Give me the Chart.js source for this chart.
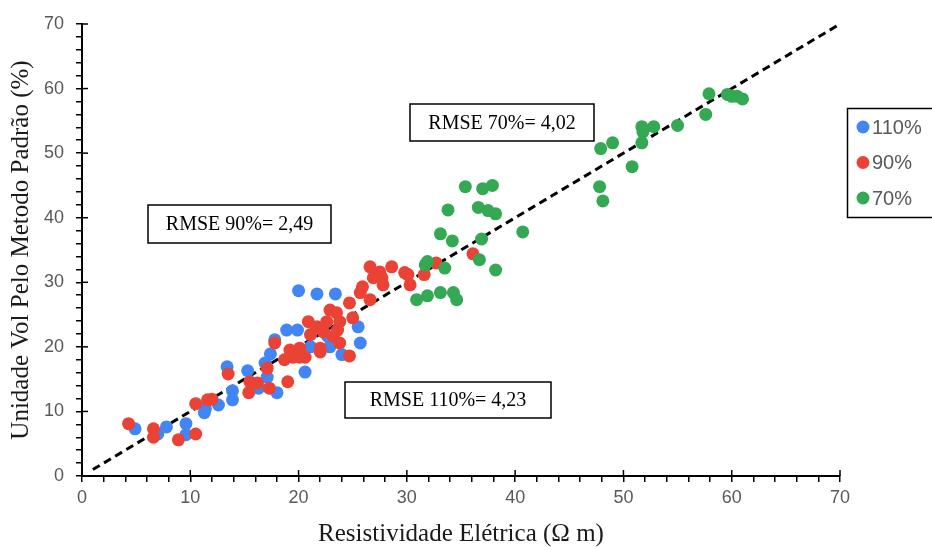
<!DOCTYPE html>
<html lang="pt">
<head>
<meta charset="utf-8">
<title>Resistividade x Umidade</title>
<script src="https://cdn.jsdelivr.net/npm/chart.js@4.4.1/dist/chart.umd.min.js"></script>
<style>
    html, body { margin: 0; padding: 0; background: #fff; }
    #wrap { width: 932px; height: 547px; position: relative; }
</style>
</head>
<body>
<div id="wrap"><canvas id="grafico"></canvas></div>
<script>
// Teor de umidade 110%
const azulX = [4.9, 7.0, 7.8, 9.6, 9.6, 11.3, 11.4, 12.6, 13.9, 13.9, 13.4, 15.3, 16.3, 18.0, 17.1,
    16.9, 17.4, 17.8, 18.9, 19.9, 21.1, 22.9, 24.0, 20.0, 21.7, 23.4, 20.6, 25.5, 25.7, 22.7];
const azulY = [7.3, 6.5, 7.6, 8.1, 6.4, 9.8, 10.4, 11.0, 13.2, 11.8, 16.9, 16.3, 13.6, 12.9, 15.3,
    17.5, 18.9, 21.1, 22.6, 22.6, 20.0, 20.0, 18.8, 28.7, 28.2, 28.2, 16.1, 23.1, 20.6, 21.6];

// Teor de umidade 90%
const vermelhoX = [4.3, 6.6, 6.6, 8.9, 10.5, 10.5, 11.6, 12.0, 13.5, 15.4, 15.5, 16.2, 17.3, 17.1, 17.8,
    19.2, 19.5, 18.7, 20.1, 20.6, 22.0, 19.0, 20.9, 21.7, 22.3, 22.6, 22.9, 23.5, 24.7, 23.8,
    25.0, 23.6, 23.2, 23.8, 24.7, 22.0, 21.1, 20.1, 25.7, 25.9, 26.6, 26.9, 27.7, 27.8, 26.6,
    27.5, 28.6, 29.8, 30.1, 30.3, 31.6, 32.7, 36.1];
const vermelhoY = [8.1, 7.3, 6.0, 5.6, 6.5, 11.2, 11.8, 11.9, 15.8, 12.9, 14.6, 14.4, 13.6, 16.7, 20.6,
    19.5, 18.4, 18.0, 18.4, 18.4, 19.2, 14.6, 23.9, 23.1, 22.3, 23.9, 25.7, 25.3, 26.8, 23.9,
    24.5, 22.6, 21.6, 20.6, 18.6, 19.8, 21.9, 19.8, 28.4, 29.3, 27.3, 30.7, 30.7, 29.6, 32.4,
    31.6, 32.4, 31.5, 31.2, 29.6, 31.2, 33.0, 34.4];

// Teor de umidade 70%
const verdeX = [35.4, 37.0, 37.9, 33.8, 36.6, 37.5, 38.2, 40.7, 33.1, 34.2, 36.9, 36.7, 31.9, 31.7, 33.5,
    38.2, 30.9, 31.9, 33.1, 34.3, 34.6, 47.9, 49.0, 50.8, 47.8, 48.1, 51.7, 51.8, 52.8, 51.7,
    55.0, 57.9, 57.6, 59.6, 60.0, 60.5, 61.0];
const verdeY = [44.8, 44.5, 45.0, 41.2, 41.6, 41.1, 40.6, 37.8, 37.5, 36.4, 36.7, 33.5, 33.2, 32.7, 32.2,
    31.9, 27.3, 27.9, 28.4, 28.4, 27.3, 50.7, 51.6, 47.9, 44.8, 42.6, 54.1, 53.3, 54.1, 51.6,
    54.3, 59.2, 56.0, 59.1, 58.8, 58.8, 58.4];

// Reta 1:1
const retaX = [1, 70];
const retaY = [1, 70];

const series = ['110%', '90%', '70%'];
const cores = ['#4285F4', '#EA4335', '#34A853'];

const rmse = [
    { texto: 'RMSE 70%= 4,02', x0: 410, y0: 104, x1: 594, y1: 141 },
    { texto: 'RMSE 90%= 2,49', x0: 148, y0: 205, x1: 331, y1: 243 },
    { texto: 'RMSE 110%= 4,23', x0: 345, y0: 382, x1: 551, y1: 418 }
];

function pares(xs, ys) {
    return xs.map((x, i) => ({ x: x, y: ys[i] }));
}

// Marcas maiores atravessam o eixo, menores ficam do lado de fora
const marcasEixo = {
    id: 'marcasEixo',
    afterDraw(chart) {
        const ctx = chart.ctx;
        const area = chart.chartArea;
        const sx = chart.scales.x;
        const sy = chart.scales.y;
        ctx.save();
        ctx.strokeStyle = '#000';
        ctx.lineWidth = 1.5;
        for (let v = 0; v <= 70; v += 10) {
            const px = sx.getPixelForValue(v);
            ctx.beginPath();
            ctx.moveTo(px, area.bottom);
            ctx.lineTo(px, area.bottom - 6);
            ctx.stroke();
            const py = sy.getPixelForValue(v);
            ctx.beginPath();
            ctx.moveTo(area.left, py);
            ctx.lineTo(area.left + 6, py);
            ctx.stroke();
        }

        // Caixas com o RMSE
        ctx.font = '20px "Liberation Serif", "Times New Roman", serif';
        ctx.fillStyle = '#000';
        ctx.textBaseline = 'middle';
        ctx.textAlign = 'center';
        rmse.forEach(r => {
            ctx.lineWidth = 1.5;
            ctx.strokeRect(r.x0, r.y0, r.x1 - r.x0, r.y1 - r.y0);
            ctx.fillText(r.texto, (r.x0 + r.x1) / 2, (r.y0 + r.y1) / 2 + 1);
        });

        // Legenda
        ctx.lineWidth = 1.5;
        ctx.strokeRect(847.5, 108.5, 90, 109);
        ctx.font = '20px "Liberation Sans", Arial, sans-serif';
        ctx.textAlign = 'left';
        series.forEach((s, i) => {
            const y = 127 + i * 35.5;
            ctx.fillStyle = cores[i];
            ctx.beginPath();
            ctx.arc(863, y, 6.5, 0, Math.PI * 2);
            ctx.fill();
            ctx.fillStyle = '#595959';
            ctx.fillText(s, 872, y + 1);
        });
        ctx.restore();
    }
};

const fonteTicks = { family: '"Liberation Sans", Arial, sans-serif', size: 18 };
const fonteTitulo = { family: '"Liberation Serif", "Times New Roman", serif', size: 25, lineHeight: 1 };

function eixo(largura, titulo, tituloPad) {
    return {
        type: 'linear',
        min: 0,
        max: 70,
        afterFit(scale) {
            if (scale.isHorizontal()) scale.height = largura;
            else scale.width = largura;
        },
        border: { display: true, color: '#000', width: 2 },
        grid: {
            display: true,
            drawOnChartArea: false,
            drawTicks: true,
            tickLength: 6,
            color: '#000',
            lineWidth: 1.5
        },
        ticks: {
            stepSize: 2,
            autoSkip: false,
            maxRotation: 0,
            color: '#595959',
            font: fonteTicks,
            padding: 5,
            callback: v => (v % 10 === 0 ? v : '')
        },
        title: {
            display: true,
            text: titulo,
            color: '#1a1a1a',
            font: fonteTitulo,
            padding: tituloPad
        }
    };
}

const escalaX = eixo(71, 'Resistividade Elétrica (Ω m)', { top: 0, bottom: 0 });
const escalaY = eixo(82, 'Unidade Vol Pelo Metodo Padrão (%)', { top: 9, bottom: 0 });
escalaY.ticks.padding = 12;

new Chart(document.getElementById('grafico'), {
    type: 'scatter',
    data: {
        datasets: [
            {
                label: series[0],
                data: pares(azulX, azulY),
                backgroundColor: cores[0],
                borderWidth: 0,
                pointRadius: 6.5,
                order: 3
            },
            {
                label: series[1],
                data: pares(vermelhoX, vermelhoY),
                backgroundColor: cores[1],
                borderWidth: 0,
                pointRadius: 6.5,
                order: 2
            },
            {
                label: series[2],
                data: pares(verdeX, verdeY),
                backgroundColor: cores[2],
                borderWidth: 0,
                pointRadius: 6.5,
                order: 1
            },
            {
                type: 'line',
                label: '1:1',
                data: pares(retaX, retaY),
                borderColor: '#000',
                borderWidth: 3,
                borderDash: [8, 5],
                pointRadius: 0,
                fill: false,
                order: 4
            }
        ]
    },
    options: {
        responsive: true,
        maintainAspectRatio: false,
        animation: false,
        layout: { padding: { top: 24, right: 92, left: 0, bottom: 0 } },
        plugins: {
            legend: { display: false },
            tooltip: { enabled: false }
        },
        scales: { x: escalaX, y: escalaY }
    },
    plugins: [marcasEixo]
});
</script>
</body>
</html>
